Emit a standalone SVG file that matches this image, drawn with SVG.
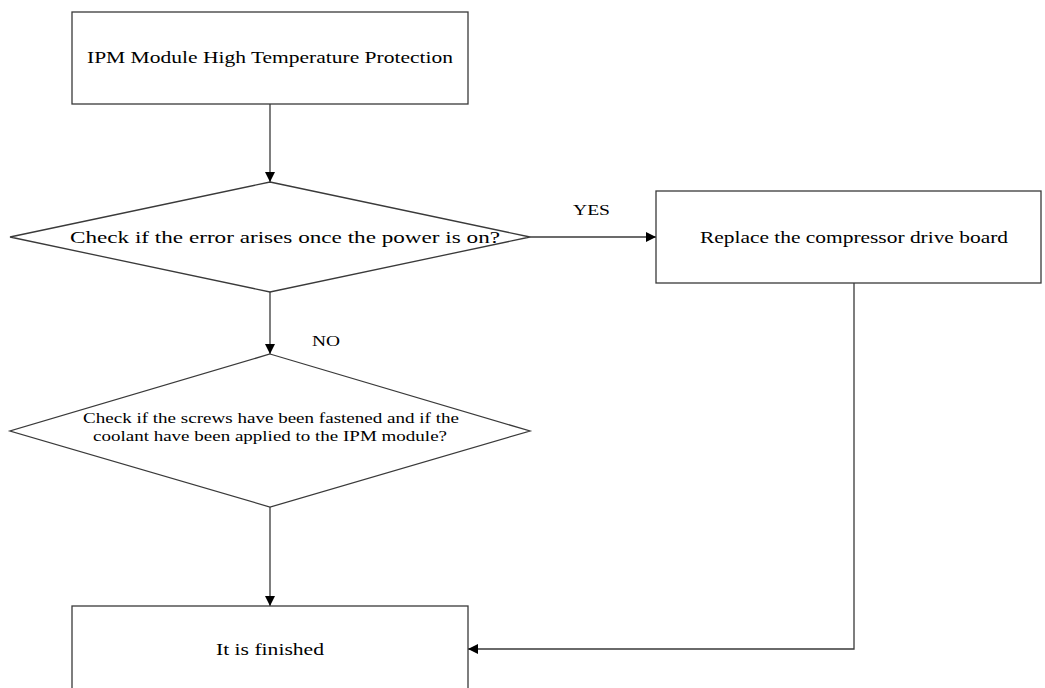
<svg xmlns="http://www.w3.org/2000/svg" width="1045" height="688" viewBox="0 0 1045 688">
<defs>
<marker id="arr" viewBox="0 0 10 10" refX="10" refY="5" markerWidth="10" markerHeight="10" markerUnits="userSpaceOnUse" orient="auto">
<path d="M0,0 L10,5 L0,10 Z" fill="#000"/>
</marker>
<style>
.shape{fill:#fff;stroke:#3a3a3a;stroke-width:1.3}
.conn{fill:none;stroke:#3a3a3a;stroke-width:1.3;marker-end:url(#arr)}
.t{font-family:"Liberation Serif","Times New Roman",serif;fill:#000;text-anchor:start}
.big{font-size:17px}
.small{font-size:15px}
</style>
</defs>
<rect width="1045" height="688" fill="#fff"/>
<g id="connectors">
<path class="conn" d="M270,104 L270,182"/>
<path class="conn" d="M530,237 L656,237"/>
<path class="conn" d="M270,292 L270,354"/>
<path class="conn" d="M270,507 L270,606"/>
<path class="conn" d="M854,283 L854,649 L468,649"/>
<text class="t small" x="573" y="215" textLength="37" lengthAdjust="spacingAndGlyphs">YES</text>
<text class="t small" x="312" y="346" textLength="28" lengthAdjust="spacingAndGlyphs">NO</text>
</g>
<g id="start">
<rect class="shape" x="72" y="12" width="396" height="92"/>
<text class="t big" x="87" y="63" textLength="366" lengthAdjust="spacingAndGlyphs">IPM Module High Temperature Protection</text>
</g>
<g id="check-power">
<polygon class="shape" points="270,182 530,237 270,292 10,237"/>
<text class="t big" x="70" y="243" textLength="430" lengthAdjust="spacingAndGlyphs">Check if the error arises once the power is on?</text>
</g>
<g id="replace-board">
<rect class="shape" x="656" y="191" width="385" height="92"/>
<text class="t big" x="700" y="243" textLength="308" lengthAdjust="spacingAndGlyphs">Replace the compressor drive board</text>
</g>
<g id="check-screws">
<polygon class="shape" points="270,354 530,431 270,507 10,431"/>
<text class="t small" x="83" y="423" textLength="376" lengthAdjust="spacingAndGlyphs">Check if the screws have been fastened and if the</text>
<text class="t small" x="93" y="441" textLength="354" lengthAdjust="spacingAndGlyphs">coolant have been applied to the IPM module?</text>
</g>
<g id="finished">
<rect class="shape" x="72" y="606" width="396" height="92"/>
<text class="t big" x="216" y="655" textLength="108" lengthAdjust="spacingAndGlyphs">It is finished</text>
</g>
</svg>
